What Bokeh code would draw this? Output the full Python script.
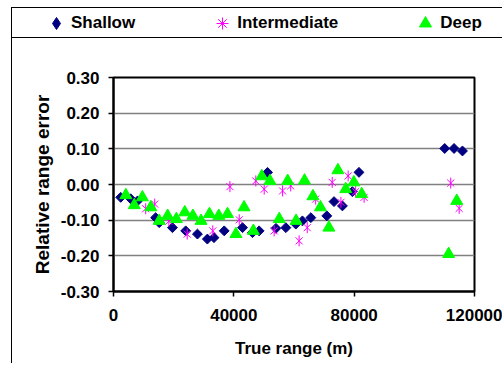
import numpy as np
from bokeh.plotting import figure
from bokeh.layouts import column
from bokeh.models import (FixedTicker, NumeralTickFormatter, Legend, LegendItem)
from bokeh.embed import file_html
from bokeh.resources import INLINE

# ---- data ----
shallow_x = [2400, 5700, 8000, 14000, 15200, 19600, 24000, 27900, 31200, 33400,
             36800, 42900, 46200, 48400, 51200, 54000, 57300, 60600, 62800, 65600,
             70900, 73300, 76100, 79400, 81600, 110100, 113200, 116000]
shallow_y = [-0.036, -0.040, -0.046, -0.093, -0.107, -0.121, -0.130, -0.139, -0.153, -0.149,
             -0.130, -0.121, -0.135, -0.130, 0.034, -0.123, -0.121, -0.111, -0.102, -0.093,
             -0.088, -0.048, -0.060, -0.020, 0.034, 0.101, 0.101, 0.094]

inter_x = [10700, 13700, 18400, 24500, 33000, 38700, 41800, 47300, 50100, 53400,
           56200, 58900, 61700, 64400, 67200, 72700, 75600, 78000, 80500, 83300,
           112100, 114900]
inter_y = [-0.068, -0.055, -0.103, -0.139, -0.130, -0.006, -0.099, 0.010, -0.013, -0.130,
           -0.018, -0.004, -0.158, -0.121, -0.041, 0.006, -0.050, 0.024, -0.020, -0.036,
           0.004, -0.067]

deep_x = [4100, 6900, 9600, 12400, 15200, 18000, 20900, 23700, 26400, 29100,
          31900, 35000, 37900, 40700, 43400, 46500, 49300, 52000, 55100, 57900,
          60700, 63500, 66300, 68800, 71600, 74600, 77200, 79900, 82500, 111400, 114100]
deep_y = [-0.030, -0.058, -0.036, -0.064, -0.102, -0.088, -0.097, -0.078, -0.088, -0.102,
          -0.083, -0.088, -0.083, -0.139, -0.064, -0.130, 0.023, 0.010, -0.097, 0.010,
          -0.102, 0.011, -0.033, -0.064, -0.121, 0.040, -0.013, 0.006, -0.027, -0.195, -0.046]

series_names = ["Shallow", "Intermediate", "Deep"]
x_ticks = [0, 40000, 80000, 120000]
y_ticks = [-0.3, -0.2, -0.1, 0.0, 0.1, 0.2, 0.3]

FONT = "Liberation Sans"
NAVY, MAGENTA, GREEN = "#000080", "#FF00FF", "#00FF00"
X_RANGE = (0, 120000)
Y_RANGE = (-0.3, 0.3)

# ---------------- main chart ----------------
p = figure(width=490, height=325, output_backend="svg", toolbar_location=None,
           x_range=X_RANGE, y_range=Y_RANGE, frame_align=False,
           min_border_left=101, min_border_right=28, min_border_top=39, min_border_bottom=72,
           background_fill_color="white", border_fill_color="white")

p.outline_line_color = "black"
p.outline_line_width = 2

p.xgrid.visible = False
p.ygrid.grid_line_color = "#808080"
p.ygrid.grid_line_width = 1.5

p.xaxis.ticker = FixedTicker(ticks=x_ticks)
p.xaxis.formatter = NumeralTickFormatter(format="0")
p.yaxis.ticker = FixedTicker(ticks=y_ticks)
p.yaxis.formatter = NumeralTickFormatter(format="0.00")

for ax in (p.xaxis[0], p.yaxis[0]):
    ax.axis_line_color = "black"
    ax.axis_line_width = 2
    ax.major_tick_in = 0
    ax.major_tick_out = 5
    ax.major_tick_line_width = 1.5
    ax.major_tick_line_color = "black"
    ax.minor_tick_line_color = None
    ax.major_label_text_font = FONT
    ax.major_label_text_font_style = "bold"
    ax.major_label_text_font_size = "17px"
    ax.major_label_text_color = "black"
    ax.axis_label_text_font = FONT
    ax.axis_label_text_font_style = "bold"
    ax.axis_label_text_color = "black"

p.xaxis.axis_label = "True range (m)"
p.yaxis.axis_label = "Relative range error"
p.xaxis.axis_label_text_font_size = "17px"
p.yaxis.axis_label_text_font_size = "19px"
p.xaxis.major_label_standoff = 12
p.xaxis.axis_label_standoff = 15
p.yaxis.major_label_standoff = 9
p.yaxis.axis_label_standoff = 5

p.scatter(shallow_x, shallow_y, marker="square", angle=np.pi / 4, size=7,
          fill_color=NAVY, line_color=NAVY)
p.scatter(inter_x, inter_y, marker="x", size=10, line_color=MAGENTA, line_width=1)
p.scatter(inter_x, inter_y, marker="dash", angle=np.pi / 2, size=11,
          line_color=MAGENTA, line_width=1)
p.scatter(deep_x, deep_y, marker="triangle", size=12,
          fill_color=GREEN, line_color=GREEN)

# ---------------- legend strip ----------------
lg = figure(width=490, height=30, output_backend="svg", toolbar_location=None,
            x_range=X_RANGE, y_range=Y_RANGE, x_axis_type=None, y_axis_type=None,
            frame_align=False,
            min_border_left=0, min_border_right=0, min_border_top=0, min_border_bottom=0,
            outline_line_color=None, background_fill_color="white",
            border_fill_color="white",
            styles={"border-bottom": "1px solid black"})

k_s = lg.scatter(shallow_x, shallow_y, marker="diamond", fill_color=NAVY, line_color=NAVY,
                 visible=False)
k_i = lg.scatter(inter_x, inter_y, marker="asterisk", line_color=MAGENTA, visible=False)
k_d = lg.scatter(deep_x, deep_y, marker="triangle", fill_color=GREEN, line_color=GREEN,
                 visible=False)

legend = Legend(items=[LegendItem(label=series_names[0], renderers=[k_s]),
                       LegendItem(label=series_names[1], renderers=[k_i]),
                       LegendItem(label=series_names[2], renderers=[k_d])],
                orientation="horizontal", location=(29, 0),
                glyph_width=30, glyph_height=30, label_standoff=-8, spacing=72,
                padding=0, margin=0, border_line_alpha=0, background_fill_alpha=0,
                label_text_font=FONT, label_text_font_style="bold",
                label_text_font_size="17px", label_text_color="black")
lg.add_layout(legend)

layout = column(lg, p, spacing=0,
                styles={"margin-left": "11px", "margin-top": "7px",
                        "border-left": "1px solid black", "border-top": "1px solid black"})

open("out.html", "w").write(file_html(layout, INLINE))
